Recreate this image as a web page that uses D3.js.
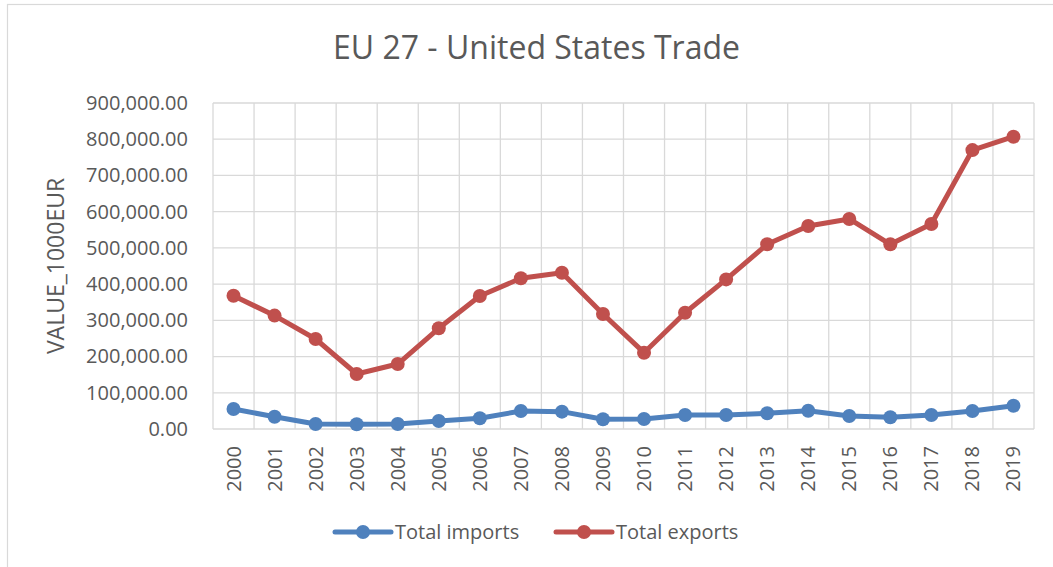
<!DOCTYPE html>
<html>
<head>
<meta charset="utf-8">
<script src="https://cdn.jsdelivr.net/npm/d3@7"></script>
<style>
  body { margin: 0; background: #fff; }
  svg text { font-family: "Open Sans", "Noto Sans", sans-serif; fill: #595959; }
</style>
</head>
<body>
<svg id="chart" width="1053" height="567"></svg>
<script>
// data
const years = ["2000","2001","2002","2003","2004","2005","2006","2007","2008","2009",
               "2010","2011","2012","2013","2014","2015","2016","2017","2018","2019"];
const totalImports = [55200, 34000, 13800, 13000, 13800, 22000, 29500, 49700, 47900, 26800,
                      27600, 38700, 38700, 43300, 50500, 35900, 32300, 38700, 49700, 64300];
const totalExports = [368000, 313000, 248500, 151800, 179400, 278000, 367000, 416000, 431500, 317500,
                      210700, 321000, 413000, 510000, 560400, 579800, 510000, 566000, 770000, 807000];
const yTicks = [0, 100000, 200000, 300000, 400000, 500000, 600000, 700000, 800000, 900000];

const series = [
  { name: "Total imports", values: totalImports, color: "#4f81bd" },
  { name: "Total exports", values: totalExports, color: "#c0504d" }
];

const svg = d3.select("#chart");
const margin = { top: 103, right: 19, bottom: 138, left: 213 };
const width = 1053 - margin.left - margin.right,
      height = 567 - margin.top - margin.bottom;

// chart border (runs off the right/bottom of the picture)
svg.append("rect")
  .attr("x", 7.5).attr("y", 4.5)
  .attr("width", 1100).attr("height", 620)
  .attr("fill", "none").attr("stroke", "#d9d9d9").attr("stroke-width", 1.2);

// title
svg.append("text")
  .attr("x", 536.5).attr("y", 59)
  .attr("text-anchor", "middle")
  .style("font-size", "32px")
  .text("EU 27 - United States Trade");

const g = svg.append("g").attr("transform", `translate(${margin.left},${margin.top})`);

const x = d3.scaleBand().domain(years).range([0, width]).paddingInner(0).paddingOuter(0);
const y = d3.scaleLinear().domain([0, 900000]).range([height, 0]);

// grid
g.append("g").selectAll("line")
  .data(yTicks)
  .join("line")
  .attr("x1", 0).attr("x2", width)
  .attr("y1", d => y(d)).attr("y2", d => y(d))
  .attr("stroke", "#d9d9d9").attr("stroke-width", 1.3);

g.append("g").selectAll("line")
  .data(years.concat(["end"]))
  .join("line")
  .attr("x1", (d, i) => i < years.length ? x(d) : width)
  .attr("x2", (d, i) => i < years.length ? x(d) : width)
  .attr("y1", 0).attr("y2", height)
  .attr("stroke", "#d9d9d9").attr("stroke-width", 1.3);

// y axis labels
const yAxis = g.append("g")
  .call(d3.axisLeft(y).tickValues(yTicks).tickFormat(d3.format(",.2f")).tickSize(0).tickPadding(25));
yAxis.select(".domain").remove();
yAxis.selectAll("text")
  .style("font-size", "20px")
  .style("font-family", "'Open Sans', 'Noto Sans', sans-serif")
  .attr("fill", "#595959");

// y axis title
svg.append("text")
  .attr("transform", `translate(56,${margin.top + height / 2}) rotate(-90)`)
  .attr("text-anchor", "middle")
  .attr("dy", "0.35em")
  .style("font-size", "23px")
  .text("VALUE_1000EUR");

// x axis labels
const xAxis = g.append("g")
  .attr("transform", `translate(0,${height})`)
  .call(d3.axisBottom(x).tickSize(0).tickPadding(0));
xAxis.select(".domain").remove();
xAxis.selectAll("text")
  .attr("transform", "rotate(-90)")
  .attr("x", -17).attr("y", 0)
  .attr("dy", "0.35em")
  .style("text-anchor", "end")
  .style("font-size", "20px")
  .style("font-family", "'Open Sans', 'Noto Sans', sans-serif")
  .attr("fill", "#595959");

// lines and markers
const line = d3.line()
  .x((d, i) => x(years[i]) + x.bandwidth() / 2)
  .y(d => y(d));

series.forEach(s => {
  g.append("path")
    .datum(s.values)
    .attr("fill", "none")
    .attr("stroke", s.color)
    .attr("stroke-width", 5)
    .attr("stroke-linejoin", "round")
    .attr("stroke-linecap", "round")
    .attr("d", line);

  g.append("g").selectAll("circle")
    .data(s.values)
    .join("circle")
    .attr("cx", (d, i) => x(years[i]) + x.bandwidth() / 2)
    .attr("cy", d => y(d))
    .attr("r", 7)
    .attr("fill", s.color);
});

// legend
const legendX = [335, 556];
const legend = svg.append("g").attr("transform", "translate(0,532)");
series.forEach((s, i) => {
  const lg = legend.append("g").attr("transform", `translate(${legendX[i]},0)`);
  lg.append("line")
    .attr("x1", 0).attr("x2", 56).attr("y1", 0).attr("y2", 0)
    .attr("stroke", s.color).attr("stroke-width", 5).attr("stroke-linecap", "round");
  lg.append("circle").attr("cx", 28).attr("cy", 0).attr("r", 7).attr("fill", s.color);
  lg.append("text")
    .attr("x", 60).attr("y", 0).attr("dy", "0.35em")
    .style("font-size", "20px")
    .text(s.name);
});
</script>
</body>
</html>
